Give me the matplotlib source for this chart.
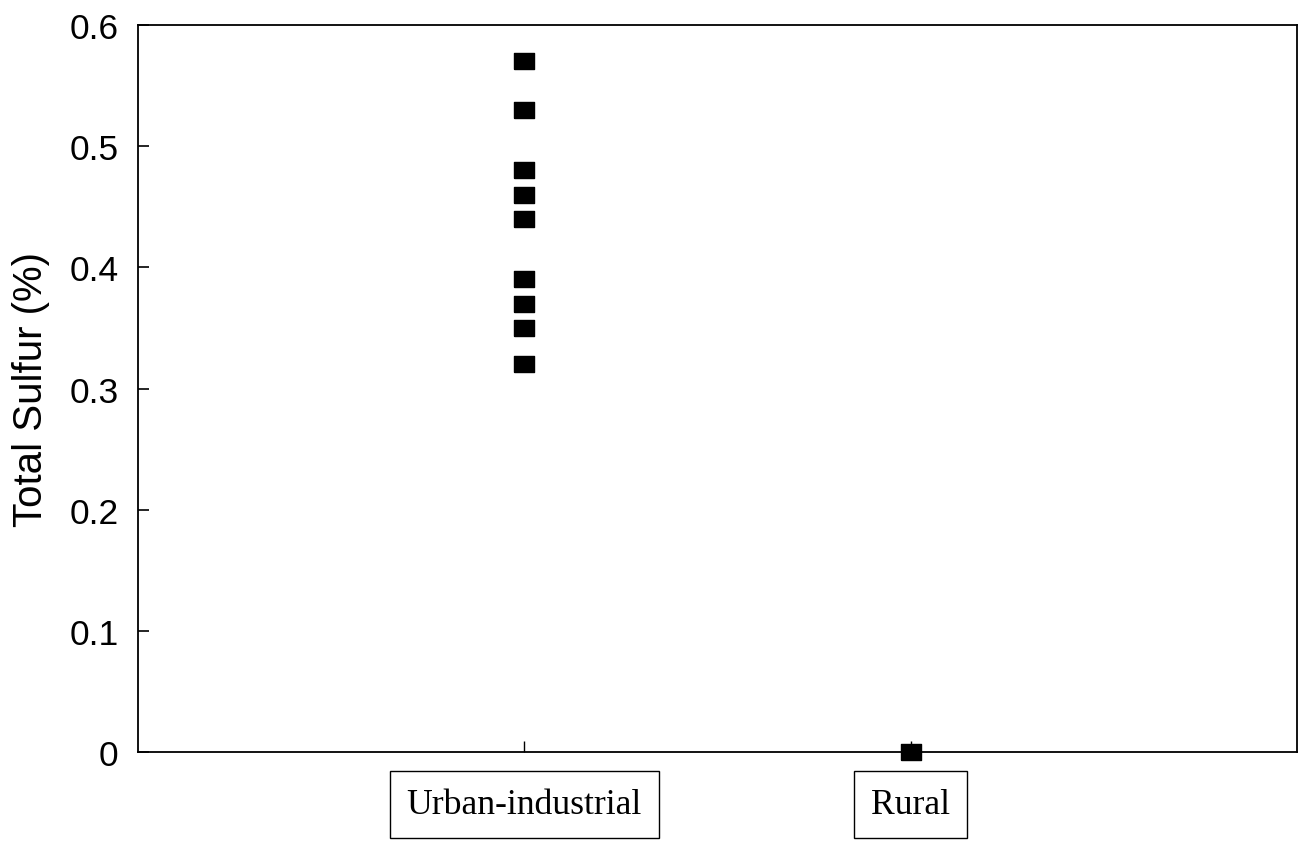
import matplotlib
matplotlib.use("Agg")
import matplotlib.pyplot as plt

# data
categories = ["Urban-industrial", "Rural"]
urban_sulfur = [0.57, 0.53, 0.48, 0.46, 0.44, 0.39, 0.37, 0.35, 0.32]
rural_sulfur = [0.0]
yticks = [0, 0.1, 0.2, 0.3, 0.4, 0.5, 0.6]

fig = plt.figure(figsize=(13.11, 8.45), dpi=100)
ax = fig.add_axes([0.1053, 0.1089, 0.884, 0.8603])

# slightly wide square markers like the original
rect = [(-1, -0.78), (1, -0.78), (1, 0.78), (-1, 0.78), (-1, -0.78)]
ax.plot([1] * len(urban_sulfur), urban_sulfur, linestyle="none",
        marker=rect, markersize=14.5, color="black", clip_on=False)
ax.plot([2] * len(rural_sulfur), rural_sulfur, linestyle="none",
        marker=rect, markersize=14.5, color="black", clip_on=False, zorder=5)

ax.set_xlim(0, 3)
ax.set_ylim(0, 0.6)
ax.set_yticks(yticks)
ax.set_yticklabels(["0", "0.1", "0.2", "0.3", "0.4", "0.5", "0.6"],
                   fontsize=25.5, family="Liberation Sans")
ax.tick_params(axis="y", direction="in", length=8, width=1.2, pad=14)

# boxed category labels
ax.set_xticks([1, 2])
ax.set_xticklabels(categories, family="Liberation Serif",
                   fontsize=25.7, va="top",
                   bbox=dict(boxstyle="square,pad=0.48", fc="white",
                             ec="black", lw=1.0))
ax.tick_params(axis="x", direction="in", length=8, width=1.0, pad=25.9)

ax.set_ylabel("Total Sulfur (%)", fontsize=29, family="Liberation Sans")
ax.yaxis.set_label_coords(-0.076, 0.5)

for s in ax.spines.values():
    s.set_linewidth(1.3)

fig.savefig("out.png", dpi=100)
